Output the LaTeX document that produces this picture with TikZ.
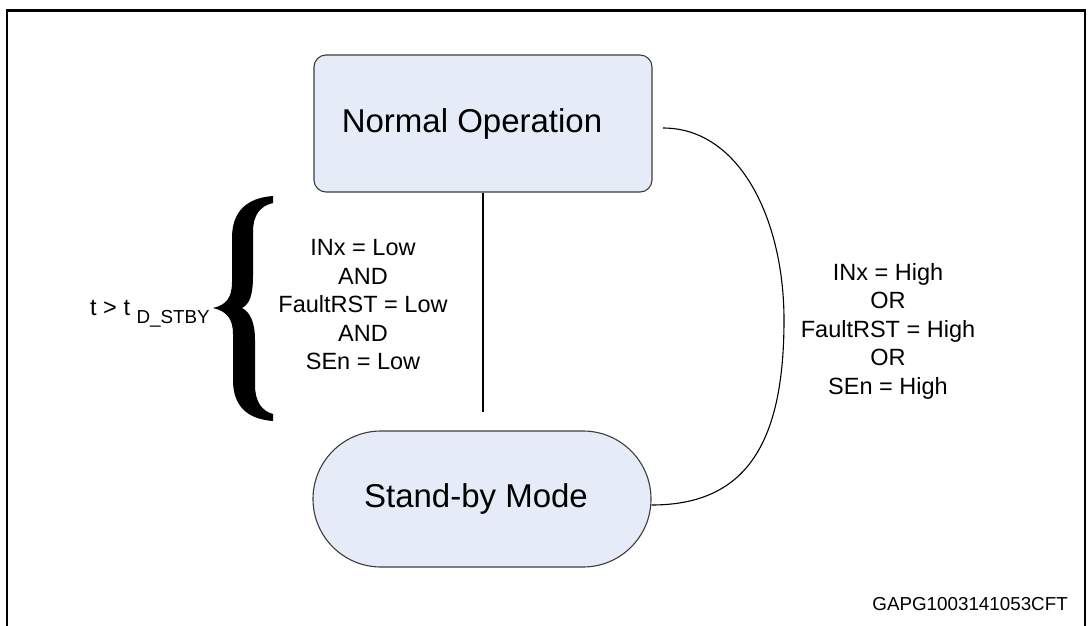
\documentclass[tikz,border=0pt]{standalone}
\usepackage{fontspec}
\setmainfont{Liberation Sans}
\usetikzlibrary{calc}
\definecolor{boxfill}{RGB}{230,236,247}
\definecolor{boxline}{RGB}{60,60,60}
\tikzset{
  statebox/.style={draw=boxline, fill=boxfill, line width=1.1pt, inner sep=0pt,
    font=\fontsize{33}{40}\selectfont},
  cond/.style={align=center, inner sep=0pt, anchor=north,
    font=\fontsize{23.5}{28.5}\selectfont},
  wire/.style={draw=black, line width=1.1pt}
}
\begin{document}
\begin{tikzpicture}[x=1pt, y=-1pt]
\useasboundingbox (0,0) rectangle (1090,626);
\clip (0,0) rectangle (1090,626);
\fill[white] (0,0) rectangle (1090,626);
% frame
\draw[line width=2.2pt] (7,640) -- (7,10.5) -- (1085,10.5) -- (1085,640);

% states
\node[statebox, rounded corners=12pt, minimum width=338pt, minimum height=137pt]
  (normal) at (483,123.5) {Normal Operation\hspace*{22pt}};
\node[statebox, rounded corners=68pt, minimum width=338pt, minimum height=136pt]
  (standby) at (482,499) {Stand-by Mode\hspace*{12pt}};

% vertical connector
\coordinate (vend) at (483,412);
\draw[wire] (normal.south) -- (vend);

% curved connector
\coordinate (cstart) at (663,128);
\coordinate (cmid) at (784,320);
\draw[wire] (cstart) .. controls (740,128) and (784,220) .. (cmid)
  .. controls (784,445) and (745,505) .. ($(standby.east)+(0,6)$);

% conditions
\node[cond] (low) at (363,239.2) {INx = Low\\AND\\FaultRST = Low\\AND\\SEn = Low};
\node[cond] (high) at (888,263.2) {INx = High\\OR\\FaultRST = High\\OR\\SEn = High};

% brace
\fill (273,196) .. controls (246,198) and (232,212) .. (232,238) -- (232,282)
  .. controls (232,298) and (226,305) .. (213,308)
  .. controls (226,311) and (233,318) .. (233,334) -- (233,380)
  .. controls (233,405) and (246,419) .. (273,421) -- (273,414)
  .. controls (262,411) and (255,402) .. (255,385) -- (255,340)
  .. controls (255,322) and (250,312) .. (242,308)
  .. controls (250,304) and (253,294) .. (253,276) -- (253,232)
  .. controls (253,215) and (260,206) .. (273,203) -- cycle;

% timing label
\node[anchor=base west, inner sep=0pt, font=\fontsize{23.5}{28}\selectfont] (tlabel) at (90,315)
  {t > t \raisebox{-8pt}{\fontsize{18.8}{22}\selectfont D\_STBY}};

% figure code
\node[anchor=base east, inner sep=0pt, font=\fontsize{18.8}{22}\selectfont] (code) at (1068,610)
  {GAPG1003141053CFT};
\end{tikzpicture}
\end{document}
